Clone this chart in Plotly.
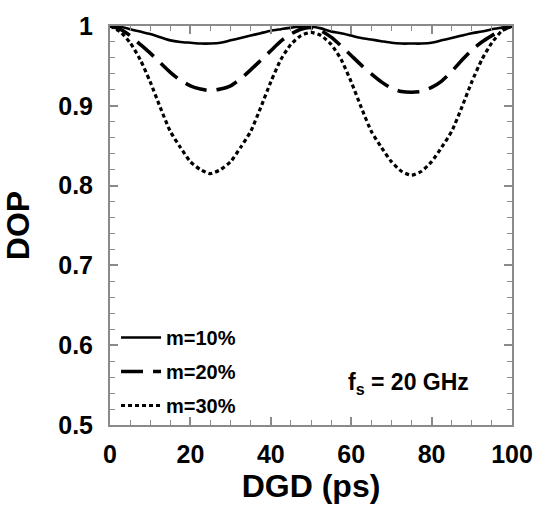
import plotly.graph_objects as go

dgd_ps = [0, 2.5, 5, 7.5, 10, 12.5, 15, 17.5, 20, 22.5, 25, 27.5, 30, 32.5, 35, 37.5, 40, 42.5, 45, 47.5,
          50, 52.5, 55, 57.5, 60, 62.5, 65, 67.5, 70, 72.5, 75, 77.5, 80, 82.5, 85, 87.5, 90, 92.5, 95, 97.5, 100]

dop_m10 = [1.000, 0.999, 0.996, 0.993, 0.990, 0.986, 0.982, 0.980, 0.979, 0.978, 0.978, 0.979, 0.982, 0.985,
           0.988, 0.991, 0.994, 0.996, 0.998, 0.999, 0.999, 0.997, 0.993, 0.991, 0.988, 0.985, 0.983, 0.981,
           0.979, 0.978, 0.978, 0.978, 0.979, 0.982, 0.985, 0.988, 0.991, 0.993, 0.996, 0.998, 1.000]

dop_m20 = [1.000, 0.996, 0.988, 0.977, 0.966, 0.954, 0.942, 0.932, 0.925, 0.921, 0.919, 0.921, 0.925, 0.934,
           0.945, 0.957, 0.969, 0.981, 0.990, 0.996, 0.998, 0.994, 0.986, 0.975, 0.963, 0.951, 0.940, 0.930,
           0.922, 0.918, 0.917, 0.918, 0.923, 0.931, 0.943, 0.957, 0.970, 0.980, 0.988, 0.995, 1.000]

dop_m30 = [1.000, 0.993, 0.979, 0.958, 0.930, 0.898, 0.868, 0.848, 0.830, 0.820, 0.815, 0.820, 0.830, 0.848,
           0.868, 0.898, 0.930, 0.958, 0.977, 0.988, 0.992, 0.988, 0.977, 0.958, 0.930, 0.898, 0.868, 0.848,
           0.830, 0.818, 0.813, 0.818, 0.830, 0.848, 0.868, 0.898, 0.930, 0.958, 0.979, 0.994, 1.000]

series_names = ["m=10%", "m=20%", "m=30%"]
y_tickvals = [0.5, 0.6, 0.7, 0.8, 0.9, 1.0]
y_ticktext = ["0.5", "0.6", "0.7", "0.8", "0.9", "1"]
x_tickvals = [0, 20, 40, 60, 80, 100]

FONT = "Liberation Sans, Arial, sans-serif"

fig = go.Figure()
styles = [
    dict(color="black", width=2.6, dash="solid"),
    dict(color="black", width=3.6, dash="22px,10px"),
    dict(color="black", width=3.2, dash="4px,3px"),
]
for i, (name, ys) in enumerate(zip(series_names, [dop_m10, dop_m20, dop_m30])):
    fig.add_trace(go.Scatter(
        x=dgd_ps, y=ys, mode="lines", name=name, legendgroup=name,
        line=dict(shape="spline", smoothing=0.6, **styles[i]),
    ))

axis_common = dict(
    showline=True, linecolor="#8a8a8a", linewidth=2, mirror="allticks",
    ticks="inside", tickcolor="#8a8a8a", tickwidth=1.5, ticklen=8,
    showgrid=False, zeroline=False,
    tickfont=dict(family=FONT, size=25, color="black", weight="bold"),
)

fig.update_xaxes(
    range=[0, 100], tickvals=x_tickvals,
    minor=dict(dtick=5, ticks="inside", ticklen=5, tickcolor="#8a8a8a", tickwidth=1.2),
    title=dict(text="DGD (ps)", font=dict(family=FONT, size=32, color="black", weight="bold"), standoff=4),
    ticklabelstandoff=6,
    **axis_common,
)
fig.update_yaxes(
    range=[0.5, 1.0], tickvals=y_tickvals, ticktext=y_ticktext,
    minor=dict(dtick=0.02, tick0=0.5, ticks="inside", ticklen=5, tickcolor="#8a8a8a", tickwidth=1.2),
    title=dict(text="DOP", font=dict(family=FONT, size=32, color="black", weight="bold"), standoff=20),
    ticklabelstandoff=10,
    **axis_common,
)

fig.add_annotation(
    text="f<sub>s</sub> = 20 GHz", xref="paper", yref="paper", x=0.742, y=0.103,
    xanchor="center", yanchor="middle", showarrow=False,
    font=dict(family=FONT, size=23, color="black", weight="bold"),
)

fig.update_layout(
    width=545, height=506,
    margin=dict(l=110, r=25, t=25, b=73),
    paper_bgcolor="white", plot_bgcolor="white",
    showlegend=True,
    legend=dict(
        x=0.015, y=0.0, xanchor="left", yanchor="bottom",
        bgcolor="rgba(0,0,0,0)", borderwidth=0,
        font=dict(family=FONT, size=20, color="black", weight="bold"),
        tracegroupgap=5, itemwidth=40,
    ),
)

fig.write_html("out.html")
